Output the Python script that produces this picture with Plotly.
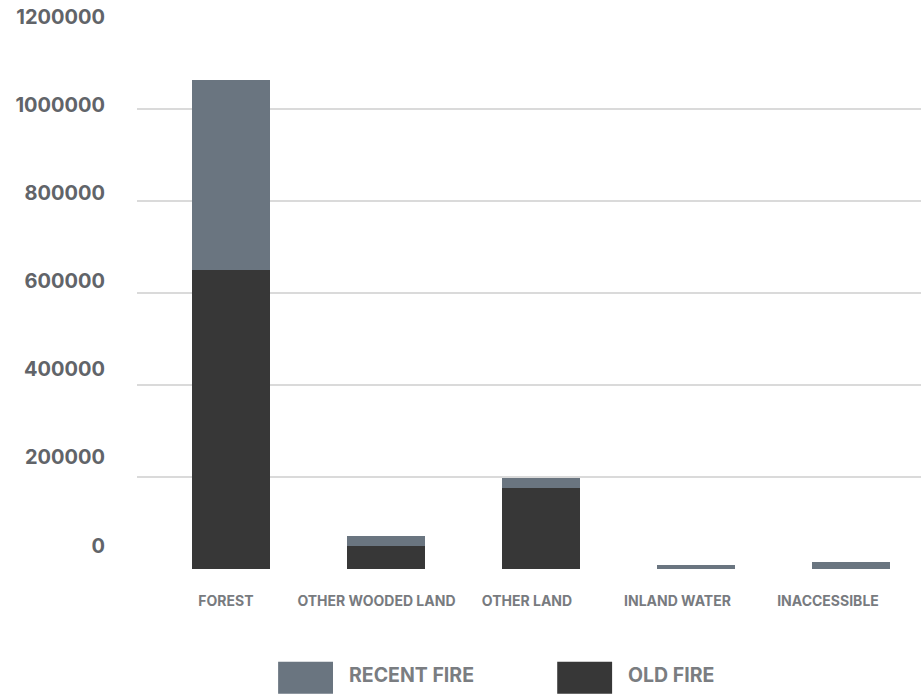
import plotly.graph_objects as go

# Land classes and burned area per fire age
categories = ["FOREST", "OTHER WOODED LAND", "OTHER LAND", "INLAND WATER", "INACCESSIBLE"]
old_fire = [649000, 50000, 176000, 0, 0]
recent_fire = [413000, 21700, 21600, 8700, 15200]
series_names = ["RECENT FIRE", "OLD FIRE"]
y_ticks = [0, 200000, 400000, 600000, 800000, 1000000, 1200000]

RECENT_COLOR = "#6a7580"
OLD_COLOR = "#373737"
FONT = "Inter"

fig = go.Figure()
fig.add_trace(go.Bar(x=categories, y=old_fire, name=series_names[1],
                     marker=dict(color=OLD_COLOR, line=dict(width=0)),
                     width=0.5, showlegend=False))
fig.add_trace(go.Bar(x=categories, y=recent_fire, name=series_names[0],
                     marker=dict(color=RECENT_COLOR, line=dict(width=0)),
                     width=0.5, showlegend=False))

# Invisible carrier trace for the label axes (x2 / y2)
fig.add_trace(go.Scatter(x=[categories[0]], y=[0], xaxis="x2", yaxis="y2",
                         mode="markers", marker=dict(opacity=0),
                         hoverinfo="skip", showlegend=False))

fig.update_layout(
    width=921, height=696,
    margin=dict(l=137, r=0, t=16.5, b=127),
    barmode="stack",
    plot_bgcolor="white", paper_bgcolor="white",
    font=dict(family=FONT),
    xaxis=dict(type="category", range=[-0.606, 4.452], showticklabels=False,
               showgrid=False, zeroline=False, showline=False, ticks=""),
    yaxis=dict(range=[0, 1200000], tickvals=y_ticks, showticklabels=False,
               showgrid=True, gridcolor="#dadada", gridwidth=2,
               zeroline=False, showline=False, ticks=""),
    xaxis2=dict(type="category", overlaying="x", side="bottom", anchor="y",
                range=[-0.591, 4.618], categoryorder="array", categoryarray=categories,
                tickvals=categories, ticktext=categories,
                showgrid=False, zeroline=False, showline=False,
                ticks="outside", ticklen=19, tickcolor="rgba(0,0,0,0)",
                tickfont=dict(family=FONT, size=14, color="#787b7f", weight="bold")),
    yaxis2=dict(overlaying="y", side="left", anchor="x",
                range=[-53328, 1200454], tickvals=y_ticks,
                tickformat="d",
                showgrid=False, zeroline=False, showline=False,
                ticks="outside", ticklen=27, tickcolor="rgba(0,0,0,0)",
                tickfont=dict(family=FONT, size=20, color="#616469", weight="bold")),
)

# Legend drawn as large swatches with labels below the plot
legend_items = [(series_names[0], RECENT_COLOR, 0.180), (series_names[1], OLD_COLOR, 0.536)]
for name, color, x0 in legend_items:
    fig.add_shape(type="rect", xref="paper", yref="paper",
                  x0=x0, x1=x0 + 0.070, y0=-0.226, y1=-0.168,
                  fillcolor=color, line=dict(width=0))
    fig.add_annotation(xref="paper", yref="paper", x=x0 + 0.088, y=-0.192,
                       text=name, showarrow=False, xanchor="left", yanchor="middle",
                       font=dict(family=FONT, size=19.5, color="#7a7d81", weight="bold"))

fig.write_html("out.html")
